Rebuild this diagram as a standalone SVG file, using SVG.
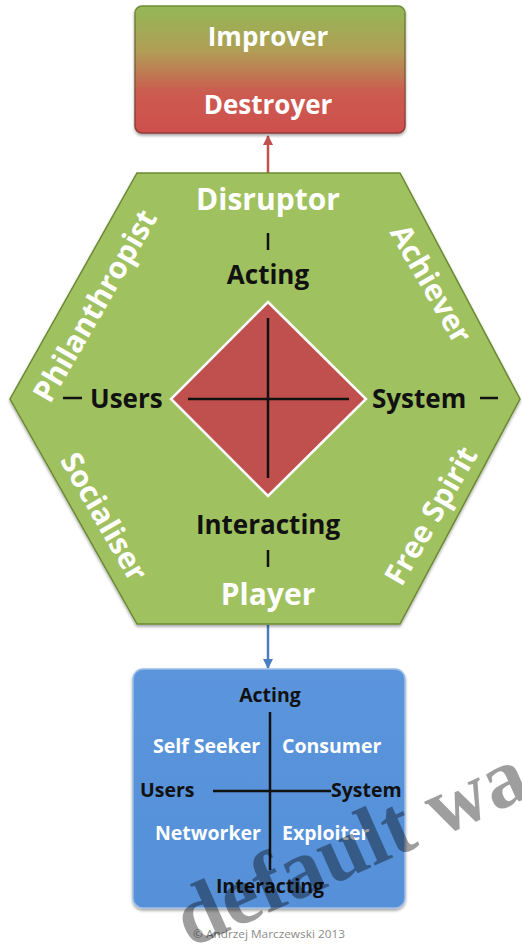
<svg xmlns="http://www.w3.org/2000/svg" width="522" height="947" viewBox="0 0 522 947">
<defs>
<linearGradient id="gTop" x1="0" y1="0" x2="0" y2="1">
<stop offset="0" stop-color="#93b856"/>
<stop offset="0.35" stop-color="#b09e55"/>
<stop offset="0.68" stop-color="#cc5b50"/>
<stop offset="1" stop-color="#cf4f4e"/>
</linearGradient>
<linearGradient id="gTopStroke" x1="0" y1="0" x2="0" y2="1">
<stop offset="0" stop-color="#6f8c3a"/>
<stop offset="1" stop-color="#8e3a38"/>
</linearGradient>
<linearGradient id="gBlue" x1="0" y1="0" x2="0" y2="1">
<stop offset="0" stop-color="#5b95dc"/>
<stop offset="1" stop-color="#5590d8"/>
</linearGradient>
<filter id="shadow" x="-10%" y="-10%" width="120%" height="120%">
<feGaussianBlur in="SourceAlpha" stdDeviation="1.5"/>
<feOffset dx="0" dy="2" result="b"/>
<feComponentTransfer><feFuncA type="linear" slope="0.35"/></feComponentTransfer>
<feMerge><feMergeNode/><feMergeNode in="SourceGraphic"/></feMerge>
</filter>
<marker id="arrRed" viewBox="0 0 10 10" refX="9" refY="5" markerWidth="4" markerHeight="4" orient="auto">
<path d="M0,0 L10,5 L0,10 z" fill="#c0504d"/>
</marker>
<marker id="arrBlue" viewBox="0 0 10 10" refX="9" refY="5" markerWidth="4" markerHeight="4" orient="auto">
<path d="M0,0 L10,5 L0,10 z" fill="#4a7ebf"/>
</marker>
</defs>
<style>
text{font-family:"Open Sans","Liberation Sans",sans-serif;font-weight:700;}
.w{fill:#ffffff;}
.k{fill:#111111;}
.big{font-size:30px;}
.mid{font-size:26px;}
.sm{font-size:19.5px;}
.ln{stroke:#111111;stroke-width:2.5;fill:none;}
</style>

<g id="connectors">
<line x1="268" y1="173" x2="268" y2="136" stroke="#c0504d" stroke-width="2.5" marker-end="url(#arrRed)"/>
<line x1="268" y1="625" x2="268" y2="668" stroke="#4a7ebf" stroke-width="2.5" marker-end="url(#arrBlue)"/>
</g>

<g id="improver-destroyer">
<rect x="135" y="6" width="270" height="127" rx="7" fill="url(#gTop)" stroke="url(#gTopStroke)" stroke-width="1.5" filter="url(#shadow)"/>
<text class="w" x="268" y="46" font-size="26" text-anchor="middle">Improver</text>
<text class="w" x="268" y="114" font-size="26" text-anchor="middle">Destroyer</text>
</g>

<g id="hexagon">
<polygon points="137,173 400,173 520,399 400,624 137,624 10,399" fill="#a0c15e" stroke="#6b8a35" stroke-width="1.5" filter="url(#shadow)"/>
<text class="w big" x="268" y="210" text-anchor="middle">Disruptor</text>
<text class="w big" x="268" y="605" text-anchor="middle">Player</text>
<text class="w big" text-anchor="middle" transform="translate(104,311) rotate(-60)">Philanthropist</text>
<text class="w big" text-anchor="middle" transform="translate(422,289) rotate(60)">Achiever</text>
<text class="w big" text-anchor="middle" transform="translate(95,522) rotate(60)">Socialiser</text>
<text class="w big" text-anchor="middle" transform="translate(440,521) rotate(-60)">Free Spirit</text>
<line class="ln" x1="268" y1="233" x2="268" y2="250"/>
<line class="ln" x1="268" y1="550" x2="268" y2="567"/>
<line class="ln" x1="63" y1="398" x2="82" y2="398"/>
<line class="ln" x1="480" y1="398" x2="498" y2="398"/>
<text class="k mid" x="268" y="284" text-anchor="middle">Acting</text>
<text class="k mid" x="268" y="534" text-anchor="middle">Interacting</text>
<text class="k mid" x="90" y="408">Users</text>
<text class="k mid" x="372" y="408">System</text>
</g>

<g id="diamond">
<polygon points="268,302 366,399 268,496 171,399" fill="#c0504d" stroke="#ffffff" stroke-width="2.5"/>
<line class="ln" x1="268" y1="318" x2="268" y2="478"/>
<line class="ln" x1="188" y1="399" x2="349" y2="399"/>
</g>

<g id="player-types">
<rect x="133" y="669" width="272" height="239" rx="10" fill="url(#gBlue)" stroke="#9dbde6" stroke-width="1.5" filter="url(#shadow)"/>
<text class="k sm" x="270" y="702" text-anchor="middle">Acting</text>
<text class="k sm" x="270" y="893" text-anchor="middle">Interacting</text>
<line class="ln" x1="270" y1="712" x2="270" y2="870"/>
<line class="ln" x1="213" y1="791" x2="331" y2="791"/>
<text class="w sm" x="153" y="753">Self Seeker</text>
<text class="w sm" x="282" y="753">Consumer</text>
<text class="k sm" x="140" y="797">Users</text>
<text class="k sm" x="331" y="797">System</text>
<text class="w sm" x="155" y="840">Networker</text>
<text class="w sm" x="282" y="840">Exploiter</text>
</g>

<text x="193" y="938" font-size="11.5" fill="#8a8a8a" textLength="152" lengthAdjust="spacingAndGlyphs" style="font-weight:400">© Andrzej Marczewski 2013</text>

<text x="190" y="948" font-size="84" fill="#000000" fill-opacity="0.38" transform="rotate(-24 190 948)" style="font-family:'Liberation Serif',serif;font-weight:700">default wa</text>
</svg>
